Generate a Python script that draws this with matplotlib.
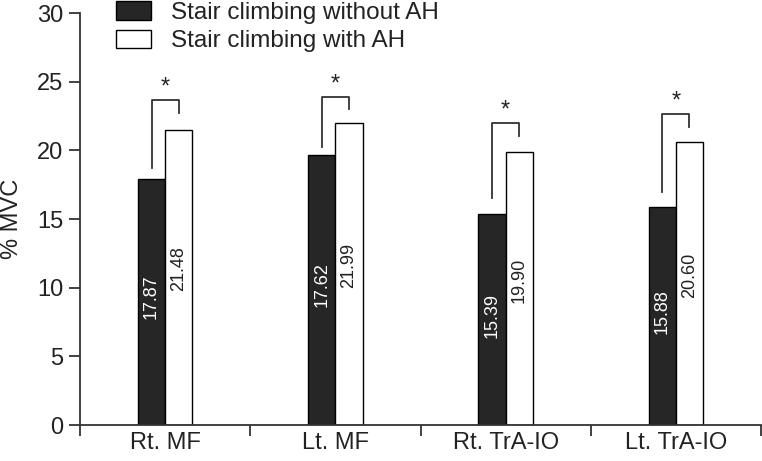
import matplotlib
matplotlib.use('Agg')
import matplotlib.pyplot as plt
import numpy as np

plt.rcParams['font.family'] = ['Liberation Sans', 'DejaVu Sans']

muscles = ['Rt. MF', 'Lt. MF', 'Rt. TrA-IO', 'Lt. TrA-IO']
# bar heights as drawn in the figure
without_ah = [17.9, 19.65, 15.4, 15.88]
with_ah = [21.48, 21.99, 19.9, 20.6]
# printed labels
without_lab = ['17.87', '17.62', '15.39', '15.88']
with_lab = ['21.48', '21.99', '19.90', '20.60']
# significance brackets: top, left leg bottom, right leg bottom
br_top = [23.67, 23.9, 22.0, 22.67]
br_left = [18.72, 20.25, 16.5, 17.0]
br_right = [22.72, 23.0, 21.05, 21.73]

dark = '#262626'
txt = '#222222'

fig = plt.figure(figsize=(7.62, 4.61), dpi=100)
ax = fig.add_axes([80/762, 1-425/461, 681/762, 412/461])

x = np.arange(len(muscles))
w = 0.16
ax.bar(x - w/2, without_ah, w, color=dark, edgecolor='black', lw=1, label='Stair climbing without AH')
ax.bar(x + w/2, with_ah, w, color='white', edgecolor='black', lw=1, label='Stair climbing with AH')

for i in range(len(muscles)):
    ax.text(x[i] - w/2, without_ah[i]*0.52, without_lab[i], rotation=90, ha='center', va='center',
            color='white', fontsize=13)
    ax.text(x[i] + w/2, with_ah[i]*0.53, with_lab[i], rotation=90, ha='center', va='center',
            color=txt, fontsize=13)
    ax.plot([x[i]-w/2, x[i]-w/2, x[i]+w/2, x[i]+w/2],
            [br_left[i], br_top[i], br_top[i], br_right[i]], color='#333333', lw=1.3)
    ax.text(x[i], br_top[i] + 0.1, '*', ha='center', va='bottom', fontsize=17, color=txt)

ax.set_xlim(-0.5, 3.5)
ax.set_ylim(0, 30)
ax.set_yticks(np.arange(0, 31, 5))
ax.set_xticks(np.arange(-0.5, 3.6, 1))
ax.set_xticklabels([])
ax.set_xticks(x, minor=True)
ax.set_xticklabels(muscles, minor=True)
ax.tick_params(axis='x', which='minor', length=0, pad=5, labelsize=17, labelcolor=txt)
ax.tick_params(axis='x', which='major', length=8, width=1.3, color='#333333')
ax.tick_params(axis='y', length=8, width=1.3, color='#333333', labelsize=17, labelcolor=txt, pad=4)
ax.set_ylabel('% MVC', fontsize=17, color=txt, labelpad=10)
for s in ['top', 'right']:
    ax.spines[s].set_visible(False)
for s in ['left', 'bottom']:
    ax.spines[s].set_linewidth(1.3)
    ax.spines[s].set_color('#333333')

fig.legend(loc='upper left', bbox_to_anchor=(116/762, 0.998), frameon=False, fontsize=17.5,
           handlelength=1.45, handleheight=0.8, handletextpad=0.8, labelspacing=0.25,
           borderpad=0, borderaxespad=0, labelcolor=txt)

fig.savefig('out.png', dpi=100)
